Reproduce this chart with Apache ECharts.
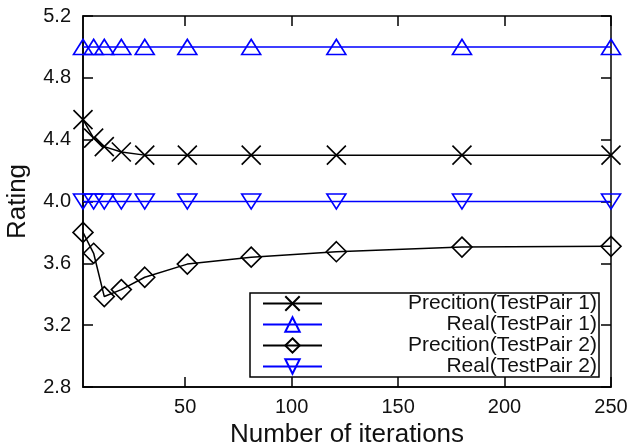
<!DOCTYPE html>
<html>
<head>
<meta charset="utf-8">
<script src="https://cdn.jsdelivr.net/npm/echarts@6/dist/echarts.min.js"></script>
<style>
  html, body { margin: 0; padding: 0; background: #fff; }
  #chart { width: 628px; height: 442px; }
</style>
</head>
<body>
<div id="chart"></div>
<script>
// values
var iterations = [2, 7, 12, 20, 31, 51, 81, 121, 180, 250];
var predPair1 = [4.53, 4.41, 4.355, 4.32, 4.30, 4.30, 4.30, 4.30, 4.30, 4.30];
var realPair1 = [5.0, 5.0, 5.0, 5.0, 5.0, 5.0, 5.0, 5.0, 5.0, 5.0];
var predPair2 = [3.80, 3.665, 3.385, 3.43, 3.51, 3.595, 3.64, 3.675, 3.705, 3.71];
var realPair2 = [4.0, 4.0, 4.0, 4.0, 4.0, 4.0, 4.0, 4.0, 4.0, 4.0];
var xTicks = [50, 100, 150, 200, 250];
var seriesNames = ['Precition(TestPair 1)', 'Real(TestPair 1)', 'Precition(TestPair 2)', 'Real(TestPair 2)'];

var FONT = 'Liberation Sans';
var BLUE = '#0000ff';

function pairs(ys) {
    return iterations.map(function (x, i) { return [x, ys[i]]; });
}

function mkSeries(name, ys, color, symbol, rotate) {
    return {
        name: name,
        type: 'line',
        xAxisIndex: 0,
        yAxisIndex: 0,
        data: pairs(ys),
        symbol: symbol,
        symbolSize: symbol === 'diamond' ? [20, 20] : (symbol === 'triangle' ? [19, 15] : 19),
        symbolRotate: rotate || 0,
        showAllSymbol: true,
        lineStyle: { color: color, width: 1.5 },
        itemStyle: { color: 'rgba(0,0,0,0)', borderColor: color, borderWidth: 1.6 },
        emphasis: { disabled: true },
        animation: false
    };
}

var chart = echarts.init(document.getElementById('chart'));
var option = {
    animation: false,
    backgroundColor: '#fff',
    grid: {
        left: 83, right: 17, top: 16, bottom: 55,
        outerBoundsMode: 'none',
        containLabel: false,
        show: true, borderColor: '#000', borderWidth: 1.5, backgroundColor: 'transparent'
    },
    legend: {
        data: seriesNames,
        orient: 'vertical',
        left: 250,
        top: 293,
        padding: [0, 2, 0, 12],
        itemGap: 0,
        itemWidth: 59,
        itemHeight: 18,
        borderColor: '#000',
        borderWidth: 1.5,
        backgroundColor: '#fff',
        selectedMode: false,
        formatter: function (name) { return '{r|' + name + '}'; },
        textStyle: {
            fontFamily: FONT,
            fontSize: 21,
            lineHeight: 21,
            color: '#111',
            rich: {
                r: { width: 270, align: 'right', fontFamily: FONT, fontSize: 21, lineHeight: 21, color: '#111' }
            }
        }
    },
    xAxis: [{
        type: 'value',
        min: 2,
        max: 250,
        position: 'bottom',
        name: 'Number of iterations',
        nameLocation: 'middle',
        nameGap: 32,
        nameTextStyle: { fontFamily: FONT, fontSize: 26, color: '#111' },
        axisLine: { show: true, lineStyle: { color: '#000', width: 1.5 } },
        axisTick: { show: true, inside: true, length: 10, lineStyle: { color: '#000', width: 1.5 }, customValues: xTicks },
        axisLabel: { fontFamily: FONT, fontSize: 20, color: '#111', margin: 10, customValues: xTicks },
        splitLine: { show: false }
    }, {
        type: 'value',
        min: 2,
        max: 250,
        position: 'top',
        axisLine: { show: false },
        axisTick: { show: true, inside: true, length: 10, lineStyle: { color: '#000', width: 1.5 }, customValues: xTicks },
        axisLabel: { show: false },
        splitLine: { show: false }
    }],
    yAxis: [{
        type: 'value',
        min: 2.8,
        max: 5.2,
        interval: 0.4,
        position: 'left',
        name: 'Rating',
        nameLocation: 'middle',
        nameGap: 52,
        nameTextStyle: { fontFamily: FONT, fontSize: 26, color: '#111' },
        axisLine: { show: true, lineStyle: { color: '#000', width: 1.5 } },
        axisTick: { show: true, inside: true, length: 10, lineStyle: { color: '#000', width: 1.5 } },
        axisLabel: {
            fontFamily: FONT, fontSize: 20, color: '#111', margin: 12,
            formatter: function (v) { return v.toFixed(1); }
        },
        splitLine: { show: false }
    }, {
        type: 'value',
        min: 2.8,
        max: 5.2,
        interval: 0.4,
        position: 'right',
        axisLine: { show: false },
        axisTick: { show: true, inside: true, length: 10, lineStyle: { color: '#000', width: 1.5 } },
        axisLabel: { show: false },
        splitLine: { show: false }
    }],
    series: [
        mkSeries(seriesNames[0], predPair1, '#000', 'path://M0,0L10,10M10,0L0,10'),
        mkSeries(seriesNames[1], realPair1, BLUE, 'triangle'),
        mkSeries(seriesNames[2], predPair2, '#000', 'diamond'),
        mkSeries(seriesNames[3], realPair2, BLUE, 'triangle', 180)
    ]
};
chart.setOption(option);
</script>
</body>
</html>
